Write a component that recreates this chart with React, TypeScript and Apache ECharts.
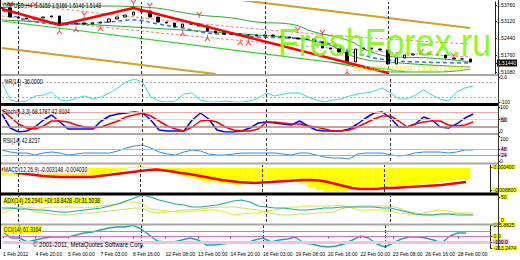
import React, { useEffect, useRef } from 'react';
import * as echarts from 'echarts';

const FONT = '"Liberation Sans", Arial, sans-serif';

const TICK_LABELS = ['1 Feb 2012', '4 Feb 20:00', '5 Feb 00:00', '7 Feb 03:00', '8 Feb 16:00', '12 Feb 08:00', '13 Feb 00:00', '14 Feb 20:00', '16 Feb 03:00', '19 Feb 08:00', '20 Feb 16:00', '22 Feb 00:00', '23 Feb 08:00', '26 Feb 16:00', '28 Feb 00:00'];
const CATEGORY_COUNT = 61;
const SEPARATOR_INDEX = [2, 17, 32, 47];

const CLOSES = [1.5364, 1.5328, 1.5324, 1.532, 1.5324, 1.5328, 1.5332, 1.53, 1.53, 1.5304, 1.53, 1.5304, 1.5308, 1.532, 1.5328, 1.5336, 1.5348, 1.5352, 1.5328, 1.5308, 1.5304, 1.5288, 1.53, 1.53, 1.5292, 1.5272, 1.5264, 1.526, 1.526, 1.5256, 1.5256, 1.5252, 1.5256, 1.5252, 1.5248, 1.5244, 1.524, 1.524, 1.5228, 1.5204, 1.52, 1.5188, 1.5148, 1.52, 1.5204, 1.52, 1.5196, 1.514, 1.5164, 1.5176, 1.518, 1.5184, 1.518, 1.5176, 1.5164, 1.516, 1.516, 1.5148];
const ZIGZAG = [[0, 1.536], [7, 1.5296], [16, 1.5364], [47, 1.5104]];
const GREEN_UPPER = [[0, 1.538], [6, 1.5372], [12, 1.5372], [17, 1.5368], [24, 1.5336], [28, 1.5324], [31, 1.5308], [35, 1.53], [38, 1.5268], [42, 1.5236], [45, 1.5188], [48, 1.5168], [52, 1.5164], [57, 1.5148]];
const GREEN_MID = [[0, 1.5316], [31, 1.5256], [39, 1.5224], [43, 1.5168], [47, 1.5148], [57, 1.5128]];
const GREEN_CHANNEL = [[0, 1.5312], [49, 1.511]];
const GREEN_LOWER = [[40, 1.5148], [44, 1.5124], [48, 1.5108], [53, 1.5108], [57, 1.512]];
const ENVELOPE_UPPER = [[0, 1.5388], [31, 1.528], [57, 1.522]];
const ENVELOPE_LOWER = [[0, 1.5332], [31, 1.5228], [57, 1.5168]];
const MOVING_AVG = [[0, 1.5356], [4, 1.5308], [8, 1.53], [13, 1.5308], [16, 1.5316], [19, 1.53], [22, 1.5284], [25, 1.5264], [29, 1.5256], [31, 1.5248], [35, 1.5244], [39, 1.5228], [43, 1.5184], [47, 1.5156], [51, 1.5148], [57, 1.5144]];
const TREND_LOWER = [[0, 1.5204], [26, 1.51]];
const TREND_UPPER = [[29, 1.5396], [57, 1.5284]];
const FRACTAL_UP = [[1, 1.5376], [4, 1.5376], [10, 1.5336], [16, 1.5384], [18, 1.5372], [24, 1.5336], [36, 1.5276], [39, 1.5264], [51, 1.5188], [55, 1.5172]];
const FRACTAL_DOWN = [[7, 1.5272], [9, 1.528], [12, 1.5284], [22, 1.5264], [25, 1.5244], [29, 1.5228], [30, 1.5228], [42, 1.5108]];
const CURRENT_PRICE = 1.5144;
const PRICE_TICKS = [1.5108, 1.5176, 1.5244, 1.5312, 1.5376];

const WPR = [-20, -92, -100, -96, -76, -72, -60, -92, -96, -84, -76, -88, -80, -64, -44, -20, -8, -20, -80, -96, -100, -96, -68, -64, -92, -100, -100, -96, -100, -100, -96, -84, -64, -76, -68, -64, -64, -80, -92, -100, -92, -88, -76, -68, -64, -56, -44, -64, -88, -88, -72, -52, -72, -88, -96, -60, -44, -36];
const STOCH_MAIN = [72, 16, 0, 4, 20, 48, 68, 40, 12, 12, 12, 12, 44, 64, 72, 76, 80, 76, 48, 8, 4, 4, 4, 48, 76, 52, 8, 0, 0, 4, 16, 36, 40, 36, 32, 28, 44, 24, 8, 4, 4, 4, 12, 32, 56, 76, 80, 56, 20, 20, 32, 60, 48, 20, 16, 32, 56, 72];
const STOCH_SIGNAL = [88, 60, 32, 16, 12, 24, 44, 44, 40, 28, 20, 16, 20, 32, 44, 60, 68, 76, 64, 44, 24, 12, 4, 20, 44, 48, 40, 20, 8, 4, 4, 12, 40, 40, 36, 32, 32, 24, 20, 12, 4, 4, 8, 20, 36, 52, 64, 64, 44, 20, 32, 40, 44, 44, 28, 24, 28, 40];
const RSI = [44, 36, 32, 32, 24, 32, 36, 32, 24, 28, 32, 32, 32, 32, 40, 52, 60, 64, 52, 36, 28, 24, 36, 44, 40, 28, 24, 24, 28, 32, 32, 32, 32, 32, 28, 24, 32, 32, 24, 16, 12, 12, 8, 28, 32, 32, 32, 24, 20, 24, 32, 36, 36, 36, 32, 36, 44, 44];
const MACD_HIST = [-0.0028, -0.0028, -0.0028, -0.0028, -0.0032, -0.0032, -0.004, -0.004, -0.004, -0.004, -0.0036, -0.0032, -0.0028, -0.002, -0.0012, -0.0004, 0.0004, 0.0008, 0.0004, -0.0004, -0.0012, -0.002, -0.0028, -0.0036, -0.0044, -0.0052, -0.0056, -0.006, -0.0064, -0.0068, -0.0064, -0.006, -0.0052, -0.0048, -0.0048, -0.0048, -0.0052, -0.0064, -0.0076, -0.0088, -0.0096, -0.0096, -0.0092, -0.0088, -0.0084, -0.0084, -0.008, -0.0076, -0.0072, -0.0072, -0.0068, -0.0068, -0.0064, -0.006, -0.0056, -0.0052, -0.0048, -0.0048];
const MACD_SIGNAL = [-0.0004, -0.0012, -0.002, -0.0024, -0.0028, -0.0032, -0.0034, -0.0036, -0.0036, -0.0036, -0.0036, -0.0036, -0.0032, -0.0028, -0.0024, -0.002, -0.0016, -0.0012, -0.0008, -0.0006, -0.001, -0.0014, -0.002, -0.0024, -0.003, -0.0036, -0.0042, -0.0048, -0.0052, -0.0056, -0.0058, -0.006, -0.0058, -0.0056, -0.0054, -0.0052, -0.005, -0.0048, -0.0048, -0.005, -0.0056, -0.0064, -0.0072, -0.008, -0.0084, -0.0084, -0.0084, -0.008, -0.008, -0.0078, -0.0076, -0.0074, -0.0072, -0.007, -0.0068, -0.0064, -0.006, -0.0056];
const ADX = [28, 28, 26, 26, 24, 24, 22, 20, 20, 22, 24, 26, 28, 32, 36, 42, 48, 54, 50, 44, 40, 36, 34, 30, 30, 32, 34, 38, 42, 44, 40, 32, 30, 28, 28, 26, 24, 24, 26, 28, 28, 30, 30, 30, 30, 30, 28, 28, 24, 20, 16, 14, 14, 16, 16, 14, 14, 14];
const PLUS_DI = [18, 24, 30, 30, 28, 28, 30, 30, 30, 30, 28, 30, 32, 34, 36, 40, 40, 36, 26, 24, 22, 20, 20, 22, 22, 24, 24, 20, 14, 16, 18, 18, 22, 24, 28, 30, 30, 32, 32, 32, 32, 34, 30, 24, 24, 24, 24, 22, 18, 16, 14, 18, 22, 24, 22, 18, 18, 18];
const MINUS_DI = [24, 28, 30, 26, 20, 18, 16, 14, 14, 16, 18, 18, 20, 22, 24, 26, 28, 28, 20, 18, 20, 22, 24, 24, 26, 28, 30, 30, 30, 28, 26, 24, 20, 16, 14, 14, 16, 16, 18, 18, 20, 26, 30, 32, 32, 32, 32, 32, 28, 22, 18, 16, 14, 14, 16, 18, 16, 14];
const CCI = [78, -31, -31, -104, -67, -31, -13, -13, -13, 24, 60, 78, 115, 151, 169, 169, 200, 133, 24, -86, -104, -104, -67, -31, -67, -158, -158, -140, -122, -122, -122, -67, -31, -104, -67, -49, -13, -122, -140, -177, -195, -177, -140, -67, 5, -31, -140, -195, -122, -49, -13, -13, -31, -67, -122, 5, 60, 60];

const CATEGORIES = Array.from({ length: CATEGORY_COUNT }, (_, i) => (i % 4 === 0 && TICK_LABELS[i / 4]) || '');
const CANDLES = CLOSES.map((c, i) => {
  const o = i === 0 ? c : CLOSES[i - 1];
  return [o, c, Math.min(o, c), Math.max(o, c)];
});

const PANELS = [
  { top: 2, height: 72 },
  { top: 77, height: 25 },
  { top: 107, height: 25 },
  { top: 136, height: 25 },
  { top: 165, height: 27 },
  { top: 196, height: 26 },
  { top: 225, height: 23 },
];

const LABEL_SIZE = 5;
const RICH = {
  yl: { backgroundColor: '#ffff00', color: '#000', fontSize: LABEL_SIZE, padding: [0, 1], fontFamily: FONT },
  ylUp: { backgroundColor: '#ffff00', color: '#000', fontSize: LABEL_SIZE, padding: [0, 1, 5, 1], fontFamily: FONT },
  cur: { backgroundColor: '#000', color: '#fff', fontSize: LABEL_SIZE, padding: [1, 1], fontFamily: FONT },
  pk: { backgroundColor: '#e4b4b4', color: '#000', fontSize: LABEL_SIZE, padding: [0, 1], fontFamily: FONT },
  lv: { backgroundColor: '#e8c4f0', color: '#000', fontSize: LABEL_SIZE, padding: [0, 1], fontFamily: FONT },
  up: { color: '#000', fontSize: LABEL_SIZE, padding: [0, 0, 3, 0], fontFamily: FONT },
  dn: { color: '#000', fontSize: LABEL_SIZE, padding: [5, 0, 0, 0], fontFamily: FONT },
};

const sepLines = SEPARATOR_INDEX.map((i) => ({ xAxis: i, lineStyle: { color: '#333', type: [3, 2], width: 1 } }));
const level = (v: number, color: string, width = 1, type: any = 'solid') => ({ yAxis: v, lineStyle: { color, width, type } });
const markLine = (extra: any[] = []) => ({
  silent: true,
  symbol: ['none', 'none'],
  label: { show: false },
  data: [...sepLines, ...extra],
});

function yAxis(gridIndex: number, min: number, max: number, ticks: number[], fmt: (v: number) => string) {
  return {
    type: 'value',
    gridIndex,
    position: 'right',
    min,
    max,
    splitLine: { show: false },
    axisLine: { show: true, lineStyle: { color: '#222' } },
    axisTick: { show: true, length: 2, customValues: ticks, lineStyle: { color: '#222' } },
    axisLabel: {
      customValues: ticks,
      formatter: fmt,
      fontSize: LABEL_SIZE,
      color: '#000',
      margin: 2,
      fontFamily: FONT,
      showMinLabel: true,
      showMaxLabel: true,
      rich: RICH,
    },
  };
}

const line = (data: any[], xi: number, color: string, width = 1, extra: any = {}) => ({
  type: 'line',
  xAxisIndex: xi,
  yAxisIndex: xi,
  data,
  symbol: 'none',
  showSymbol: false,
  connectNulls: true,
  lineStyle: { color, width, ...(extra.lineStyle || {}) },
  smooth: extra.smooth || false,
  z: extra.z || 2,
  markLine: extra.markLine,
});

const title = (text: string, x: number, y: number, bg?: string) => ({
  type: 'text',
  x,
  y,
  z: 50,
  scaleX: 0.78,
  style: { text, fill: '#000', fontSize: 6.5, fontFamily: FONT, backgroundColor: bg, padding: bg ? [0, 1] : 0 },
});

const hbar = (y: number, h: number, color: string) => ({
  type: 'rect',
  z: 40,
  shape: { x: 0, y, width: 499, height: h },
  style: { fill: color },
});

const FRACTAL_SYMBOL = 'path://M0,0L3,4L6,0M3,4L3,8';
const near = (a: number, b: number) => Math.abs(a - b) < 1e-9;

const option: any = {
  animation: false,
  backgroundColor: '#ffffff',
  grid: PANELS.map((p) => ({ left: 2, right: 22, top: p.top, height: p.height, show: false })),
  xAxis: PANELS.map((_, k) => ({
    type: 'category',
    gridIndex: k,
    data: CATEGORIES,
    boundaryGap: false,
    axisLine: { show: k === 6, lineStyle: { color: '#888' } },
    axisTick: { show: k === 6, interval: 3, length: 2, lineStyle: { color: '#444' } },
    axisLabel: {
      show: k === 6,
      interval: 3,
      fontSize: LABEL_SIZE,
      color: '#000',
      align: 'left',
      margin: 3,
      fontFamily: FONT,
      showMinLabel: true,
      hideOverlap: false,
    },
    splitLine: { show: false },
  })),
  yAxis: [
    yAxis(0, 1.51, 1.5388, [...PRICE_TICKS, CURRENT_PRICE], (v) => (near(v, CURRENT_PRICE) ? `{cur|${v.toFixed(5)}}` : v.toFixed(5))),
    yAxis(1, -100, 0, [0, -100], (v) => (v === 0 ? '0.0' : String(v))),
    yAxis(2, 0, 100, [100, 50, 20, 0], (v) => (v === 50 || v === 20 ? `{pk|${v}}` : v === 0 ? '{up|0}' : String(v))),
    yAxis(3, 0, 100, [100, 48, 24, 0], (v) => (v === 48 || v === 24 ? `{lv|${v}}` : v === 100 ? '{dn|100}' : String(v))),
    yAxis(4, -0.0096, 0.0012, [0.0004, -0.0088], (v) => `{yl|${v.toFixed(6)}}`),
    yAxis(5, 0, 52, [50, 0], (v) => (v === 0 ? '{ylUp|0}' : `{yl|${v}}`)),
    yAxis(6, -213.2474, 205.8825, [205.8825, 0, -100, -213.2474], (v) =>
      v === -100 ? `{pk|${v.toFixed(1)}}` : v === 0 ? '{yl|0.0}' : `{yl|${v.toFixed(4)}}`
    ),
  ],
  series: [
    line(TREND_LOWER, 0, '#d4a020', 2),
    line(TREND_UPPER, 0, '#d4a020', 2),
    line(ENVELOPE_UPPER, 0, '#f08080', 1, { smooth: true, lineStyle: { type: [3, 2] } }),
    line(ENVELOPE_LOWER, 0, '#f08080', 1, { smooth: true, lineStyle: { type: [3, 2] } }),
    line(GREEN_UPPER, 0, '#2aa82a', 1, { smooth: true }),
    line(GREEN_MID, 0, '#2aa82a', 1, { smooth: true }),
    line(GREEN_CHANNEL, 0, '#33cc33', 1.2),
    line(GREEN_LOWER, 0, '#2aa82a', 1, { smooth: true }),
    line(MOVING_AVG, 0, '#4169e1', 1.5, { smooth: true, lineStyle: { type: [4, 3] } }),
    {
      type: 'candlestick',
      xAxisIndex: 0,
      yAxisIndex: 0,
      data: CANDLES,
      barMaxWidth: 3,
      z: 3,
      itemStyle: { color: '#ffffff', color0: '#000000', borderColor: '#000000', borderColor0: '#000000', borderWidth: 1 },
      markLine: markLine([level(CURRENT_PRICE, '#a0a0a0')]),
    },
    line(ZIGZAG, 0, '#ff0000', 2.5, { z: 4 }),
    {
      type: 'scatter',
      xAxisIndex: 0,
      yAxisIndex: 0,
      data: FRACTAL_UP,
      symbol: FRACTAL_SYMBOL,
      symbolSize: [5, 6],
      z: 5,
      itemStyle: { color: 'rgba(0,0,0,0)', borderColor: '#ff2020', borderWidth: 1 },
    },
    {
      type: 'scatter',
      xAxisIndex: 0,
      yAxisIndex: 0,
      data: FRACTAL_DOWN,
      symbol: FRACTAL_SYMBOL,
      symbolRotate: 180,
      symbolSize: [5, 6],
      z: 5,
      itemStyle: { color: 'rgba(0,0,0,0)', borderColor: '#ff2020', borderWidth: 1 },
    },
    line(WPR, 1, '#33dddd', 1, {
      markLine: markLine([level(-20, '#b0b0b0', 1, [2, 2]), level(-80, '#b0b0b0', 1, [2, 2])]),
    }),
    line(STOCH_MAIN, 2, '#0000ff', 1.5, {
      markLine: markLine([level(80, '#f0a8a8'), level(50, '#f4d0d0'), level(20, '#c08080', 1.5)]),
    }),
    line(STOCH_SIGNAL, 2, '#ff0000', 1.5),
    line(RSI, 3, '#2e8ee0', 1, {
      markLine: markLine([level(48, '#e0a0e0'), level(24, '#d090d0')]),
    }),
    {
      type: 'bar',
      xAxisIndex: 4,
      yAxisIndex: 4,
      data: MACD_HIST,
      barCategoryGap: '0%',
      barWidth: '100%',
      itemStyle: { color: '#ffff00' },
      markLine: markLine(),
    },
    line(MACD_SIGNAL, 4, '#ff0000', 2.5, { z: 4 }),
    line(PLUS_DI, 5, '#e8e820', 1, { markLine: markLine() }),
    line(MINUS_DI, 5, '#c8e060', 1),
    line(ADX, 5, '#20a8a0', 1.2),
    line(CCI, 6, '#20a8a0', 1.5, {
      markLine: markLine([level(100, '#da70d6'), level(0, '#da70d6'), level(-100, '#f2bdf2', 3)]),
    }),
  ],
  graphic: [
    hbar(74, 2, '#a8a8a8'),
    hbar(103, 3, '#000000'),
    hbar(133, 2, '#a8a8a8'),
    hbar(162.5, 2, '#a8a8a8'),
    hbar(192.5, 3, '#000000'),
    hbar(223.5, 2, '#a8a8a8'),
    { type: 'rect', z: 40, shape: { x: 0, y: 0, width: 1, height: 249 }, style: { fill: '#000' } },
    { type: 'rect', z: 40, shape: { x: 498, y: 0, width: 1, height: 250 }, style: { fill: '#333' } },
    title('GBPUSD,H4  1.5159 1.5166 1.5146 1.5148', 3, 2),
    title('%R(14) -36.0000', 4, 78),
    title('Stoch(5,3,3) 68.1787 42.9104', 3, 108),
    title('RSI(14) 42.8237', 3, 137),
    title('MACD(12,26,9) -0.003148 -0.004030', 3, 166, '#ffffff'),
    title('ADX(14) 25.2941 +DI:18.8428 -DI:31.5038', 3, 197, '#ffff00'),
    title('CCI(14) 61.3164', 3, 226, '#ffff00'),
    {
      type: 'text',
      x: 33,
      y: 241,
      z: 50,
      scaleX: 0.92,
      style: { text: '\u00a9 2001-2011, MetaQuotes Software Corp.', fill: '#000', fontSize: 6.5, fontFamily: FONT },
    },
    {
      type: 'text',
      x: 353,
      y: 65,
      z: 45,
      scaleX: 0.85,
      style: { text: 'Sell 1.51914 | 1.51034 | 1.52850 | 1.50790', fill: '#e0e020', fontSize: 7, fontFamily: FONT },
    },
    {
      type: 'text',
      x: 278,
      y: 23,
      scaleX: 0.87,
      z: 60,
      style: { text: 'FreshForex.ru', fill: '#7cfc00', opacity: 0.9, fontSize: 39, fontFamily: FONT },
    },
  ],
};

export default function App() {
  const ref = useRef<HTMLDivElement>(null);
  useEffect(() => {
    if (!ref.current) return;
    const chart = echarts.init(ref.current, undefined, { renderer: 'svg' });
    chart.setOption(option);
    return () => chart.dispose();
  }, []);
  return <div ref={ref} style={{ position: 'fixed', left: 0, top: 0, width: 520, height: 260, background: '#fff' }} />;
}
